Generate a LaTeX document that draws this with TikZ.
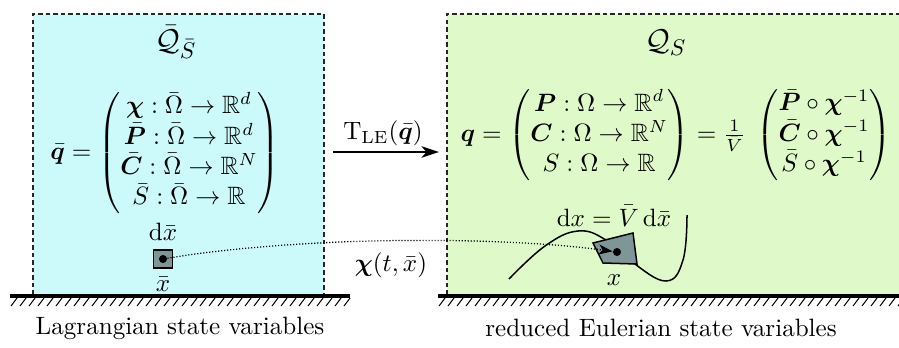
\documentclass[tikz,border=0pt]{standalone}
\usepackage{amsmath,amssymb,bm}
\usetikzlibrary{arrows.meta}

\definecolor{lagcyan}{RGB}{204,250,251}
\definecolor{eulgreen}{RGB}{224,249,201}
\definecolor{cellgray}{RGB}{127,150,150}

\begin{document}
\begin{tikzpicture}[
        x=0.014cm, y=-0.014cm,
        region/.style={draw=black!85, dash pattern=on 1.8pt off 1.2pt, line width=0.45pt},
        ground/.style={line width=1.3pt},
        hatch/.style={line width=0.4pt},
        cell/.style={draw=black, fill=cellgray, line width=0.6pt},
        pt/.style={circle, fill=black, inner sep=0pt, minimum size=3.2pt},
        labelstyle/.style={align=center, inner sep=1pt},
        arrow/.style={thick, -{Stealth[length=7pt, width=4.6pt, inset=2pt]}},
        flow/.style={dash pattern=on 0.45pt off 0.75pt, line width=0.5pt, -{Stealth[length=5.5pt, width=4pt, inset=1.5pt]}}
    ]
    \useasboundingbox (0,0) rectangle (899,347);

    % --- Regions ---
    \fill[lagcyan] (33,14) rectangle (324,295);
    \fill[eulgreen] (447,14) rectangle (910,295);
    \draw[region] (33,295) -- (33,14) -- (324,14) -- (324,295);
    \draw[region] (447,295) -- (447,14) -- (910,14);

    % --- Ground ---
    \draw[ground] (10,296) -- (350,296);
    \draw[ground] (438,296) -- (905,296);
    \foreach \x in {17,26,...,350} {
        \draw[hatch] (\x,298) -- (\x-6,306);
    }
    \foreach \x in {445,454,...,905} {
        \draw[hatch] (\x,298) -- (\x-6,306);
    }

    % --- Panel titles ---
    \node[labelstyle] (lagtitle) at (176,42) {\fontsize{13}{15}\selectfont $\bar{\mathcal{Q}}_{\bar S}$};
    \node[labelstyle] (eultitle) at (666,43) {\fontsize{13}{15}\selectfont $\mathcal{Q}_{S}$};

    % --- Lagrangian state ---
    \node[labelstyle] (qbar) at (165,153) {$\bar{\bm q} = \begin{pmatrix}
        \bm\chi : \bar\Omega \to \mathbb{R}^d \\
        \bar{\bm P} : \bar\Omega \to \mathbb{R}^d \\
        \bar{\bm C} : \bar\Omega \to \mathbb{R}^N \\
        \bar S : \bar\Omega \to \mathbb{R}
    \end{pmatrix}$};

    % --- Eulerian state ---
    \node[labelstyle] (q) at (676,135) {$\bm q = \begin{pmatrix}
        \bm P : \Omega \to \mathbb{R}^d \\
        \bm C : \Omega \to \mathbb{R}^N \\
        S : \Omega \to \mathbb{R}
    \end{pmatrix} = \frac{1}{\bar V}\;\begin{pmatrix}
        \bar{\bm P} \circ \bm\chi^{-1} \\
        \bar{\bm C} \circ \bm\chi^{-1} \\
        \bar S \circ \bm\chi^{-1}
    \end{pmatrix}$};

    % --- Transformation arrow ---
    \coordinate (tfrom) at (333,152);
    \coordinate (tto) at (439,152);
    \draw[arrow] (tfrom) -- (tto);
    \node[labelstyle] (tle) at (383,133) {$\mathrm{T}_{\mathrm{LE}}(\bar{\bm q})$};

    % --- Lagrangian cell ---
    \node[cell, minimum width=19*0.014cm, minimum height=18*0.014cm, inner sep=0pt] (lcell) at (163,259) {};
    \node[pt] (ldot) at (lcell.center) {};
    \node[labelstyle] (dxbar) at (163,232) {$\mathrm{d}\bar x$};
    \node[labelstyle] (xbar) at (163,284) {$\bar x$};

    % --- Eulerian cell ---
    \draw[line width=0.6pt] plot[smooth, tension=0.7] coordinates {(509,279) (545,246) (578,231) (606,240) (632,262) (666,281) (683,260) (687,215)};
    \filldraw[cell] (593,243) -- (633,233) -- (637,264) -- (603,263) -- cycle;
    \node[pt] (edot) at (617,252) {};
    \node[labelstyle] (dx) at (614,216) {$\mathrm{d}x = \bar V\,\mathrm{d}\bar x$};
    \node[labelstyle] (xlab) at (614,280) {$x$};

    % --- Flow map ---
    \draw[flow] (ldot) .. controls (300,236) and (500,236) .. (edot);
    \node[labelstyle] (chi) at (391,265) {$\bm\chi(t,\bar x)$};

    % --- Bottom labels ---
    \node[labelstyle] (lagtext) at (180,328) {Lagrangian state variables};
    \node[labelstyle] (eultext) at (661,328) {reduced Eulerian state variables};

\end{tikzpicture}
\end{document}
